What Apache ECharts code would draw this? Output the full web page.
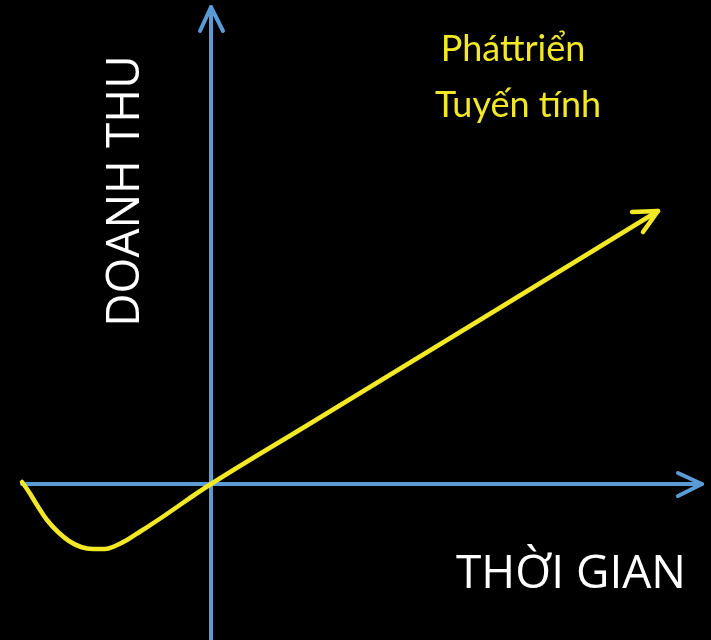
<!DOCTYPE html>
<html>
<head>
<meta charset="utf-8">
<script src="https://cdn.jsdelivr.net/npm/echarts@6/dist/echarts.min.js"></script>
<style>
html,body{margin:0;padding:0;background:#000;}
#c{width:711px;height:640px;}
</style>
</head>
<body>
<div id="c"></div>
<script>
// Axis extents (data units; origin at 0,0)
var xAxisLine = [[-18.9, 0], [49.1, 0]];
var yAxisLine = [[0, -15.6], [0, 47.7]];
// Revenue curve (time, revenue)
var curveTime = [-18.9, -18.2, -17.4, -16.4, -15.3, -14.2, -13.0, -11.8, -10.6, -9.6, -8.4, -7.0, -5.0, 0, 10, 20, 30, 44.7];
var curveRev  = [0.2, -0.8, -2.1, -3.6, -4.8, -5.7, -6.3, -6.5, -6.5, -6.2, -5.6, -4.7, -3.4, 0, 6.1, 12.2, 18.3, 27.3];
// Arrow head of curve
var curveHead = [[42.1, 27.2], [44.7, 27.3], [43.2, 25.2]];
// Axis arrow heads
var xHead = [[46.7, 1.1], [49.1, 0], [46.7, -1.2]];
var yHead = [[-1.1, 45.3], [0, 47.7], [1.2, 45.3]];
// Labels
var titleLines = ['Pháttriển', 'Tuyến tính'];
var yLabel = 'DOANH THU';
var xLabel = 'THỜI GIAN';

var BLUE = '#5B9BD5', YEL = '#F3E824';
var curve = curveTime.map(function (t, i) { return [t, curveRev[i]]; });

function lineSeries(data, color, width, smooth) {
  return {
    type: 'line', data: data, symbol: 'none', smooth: smooth || false,
    lineStyle: { color: color, width: width, cap: 'round', join: 'round' },
    silent: true, animation: false
  };
}

var chart = echarts.init(document.getElementById('c'));
chart.setOption({
  backgroundColor: '#000',
  animation: false,
  grid: { left: 0, right: 0, top: 0, bottom: 0 },
  xAxis: { type: 'value', min: -21.1, max: 50, show: false },
  yAxis: { type: 'value', min: -15.6, max: 48.4, show: false },
  series: [
    lineSeries(xAxisLine, BLUE, 4),
    lineSeries(yAxisLine, BLUE, 4),
    lineSeries(xHead, BLUE, 4),
    lineSeries(yHead, BLUE, 4),
    lineSeries(curve, YEL, 4.5, 0.4),
    lineSeries(curveHead, YEL, 4.5)
  ],
  graphic: [
    { type: 'text', x: 513, y: 49, style: { text: titleLines[0], fill: YEL, font: '36px Lato', textAlign: 'center', textVerticalAlign: 'middle' } },
    { type: 'text', x: 518, y: 105, style: { text: titleLines[1], fill: YEL, font: '36px Lato', textAlign: 'center', textVerticalAlign: 'middle' } },
    { type: 'text', x: 126, y: 191, rotation: Math.PI / 2, style: { text: yLabel, fill: '#fff', font: '46px "Open Sans"', textAlign: 'center', textVerticalAlign: 'middle' } },
    { type: 'text', x: 571, y: 575, style: { text: xLabel, fill: '#fff', font: '46px "Open Sans"', textAlign: 'center', textVerticalAlign: 'middle' } }
  ]
});
</script>
</body>
</html>
